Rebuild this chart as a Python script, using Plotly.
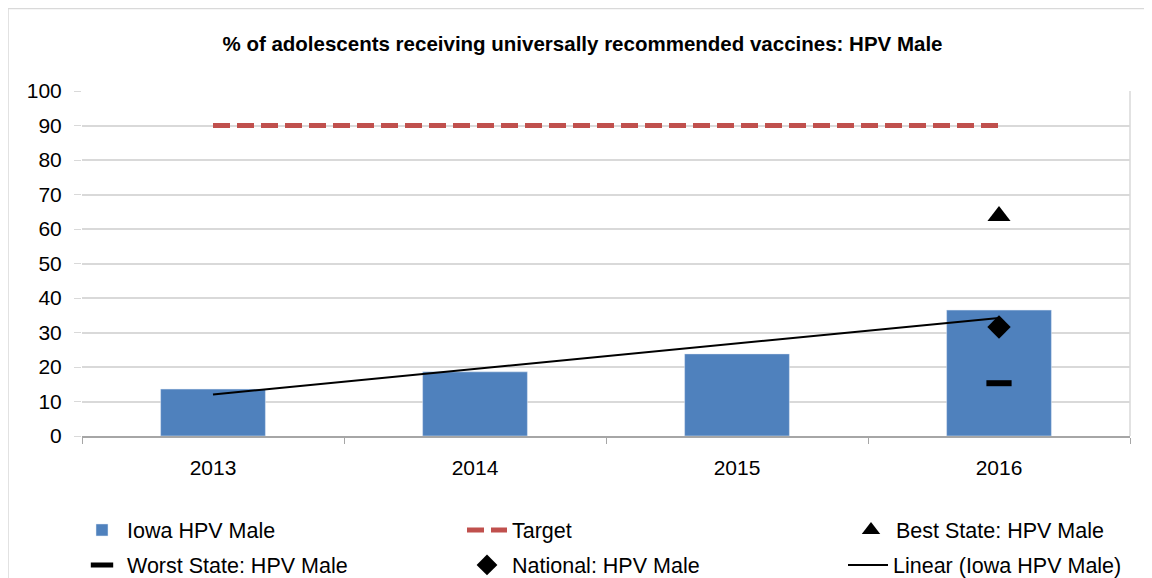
import numpy as np
import plotly.graph_objects as go

years = ["2013", "2014", "2015", "2016"]
iowa = [13.6, 18.6, 23.8, 36.5]
target = [90, 90, 90, 90]
best_years = ["2016"]
best = [63.8]
worst_years = ["2016"]
worst = [15.3]
national_years = ["2016"]
national = [31.6]

# Linear trendline (least squares fit of Iowa series)
idx = np.arange(len(iowa))
slope, intercept = np.polyfit(idx, iowa, 1)
trend = list(intercept + slope * idx)

FONT = "Liberation Sans"
W, H = 1144, 570
L, R, T, B = 74, 22, 83, 142
PW, PH = W - L - R, H - T - B

def px_x(p):  # figure pixel -> paper x
    return (p - L) / PW

def px_y(p):  # figure pixel -> paper y
    return (H - B - p) / PH

fig = go.Figure()
fig.add_trace(go.Bar(x=years, y=iowa, name="Iowa HPV Male", marker_color="#4F81BD",
                     width=0.4, legend="legend"))
fig.add_trace(go.Scatter(x=years, y=target, name="Target", mode="lines", legend="legend2",
                         line=dict(color="#C0504D", width=5, dash="17px,7px")))
fig.add_trace(go.Scatter(x=best_years, y=best, name="Best State: HPV Male", mode="markers",
                         legend="legend3",
                         marker=dict(symbol="triangle-up", size=20, color="black")))
fig.add_trace(go.Scatter(x=worst_years, y=worst, name="Worst State: HPV Male", mode="markers",
                         legend="legend4",
                         marker=dict(symbol="line-ew", size=18, color="black",
                                     line=dict(color="black", width=6))))
fig.add_trace(go.Scatter(x=national_years, y=national, name="National: HPV Male", mode="markers",
                         legend="legend5",
                         marker=dict(symbol="diamond", size=18, color="black")))
fig.add_trace(go.Scatter(x=years, y=trend, name="Linear (Iowa HPV Male)", mode="lines",
                         legend="legend6",
                         line=dict(color="black", width=2)))

def leg(xp, yp):
    return dict(orientation="h", xanchor="left", yanchor="middle",
                x=px_x(xp), y=px_y(yp), font=dict(size=21.5),
                bgcolor="rgba(0,0,0,0)", itemwidth=40)

fig.update_layout(
    width=W, height=H,
    margin=dict(l=L, r=R, t=T, b=B, autoexpand=False),
    paper_bgcolor="white", plot_bgcolor="white",
    font=dict(family=FONT, size=21, color="black"),
    title=dict(text="<b>% of adolescents receiving universally recommended vaccines: HPV Male</b>",
               xref="container", x=574.5 / W, xanchor="center", y=1 - 36 / H, yanchor="middle",
               font=dict(family=FONT, size=20.5, color="black")),
    xaxis=dict(type="category", range=[-0.5, 3.5], showgrid=False,
               showline=True, linecolor="#A6A6A6", linewidth=1.5,
               ticks="outside", tickson="boundaries", ticklen=6, tickcolor="#A6A6A6",
               tickfont=dict(size=21), ticklabelstandoff=12),
    yaxis=dict(range=[0, 100], dtick=10, showgrid=True, gridcolor="#D9D9D9", gridwidth=1.5,
               showline=False, zeroline=False, ticks="outside", ticklen=7, tickcolor="#D9D9D9",
               tickfont=dict(size=21), ticklabelstandoff=8),
    showlegend=True,
    legend=leg(69, 522),
    legend2=leg(454, 522),
    legend3=leg(838, 522),
    legend4=leg(69, 557),
    legend5=leg(454, 557),
    legend6=leg(835, 557),
    bargap=0.6,
)

# Chart outer border
fig.add_shape(type="rect", xref="paper", yref="paper",
              x0=px_x(0), x1=1.3, y0=-0.8, y1=px_y(0.5),
              line=dict(color="#D9D9D9", width=1.5), fillcolor="rgba(0,0,0,0)", layer="below")
# Plot area right edge
fig.add_shape(type="line", xref="paper", yref="paper", x0=1, x1=1, y0=0, y1=1,
              line=dict(color="#D9D9D9", width=1.5), layer="below")

fig.write_html("out.html")
